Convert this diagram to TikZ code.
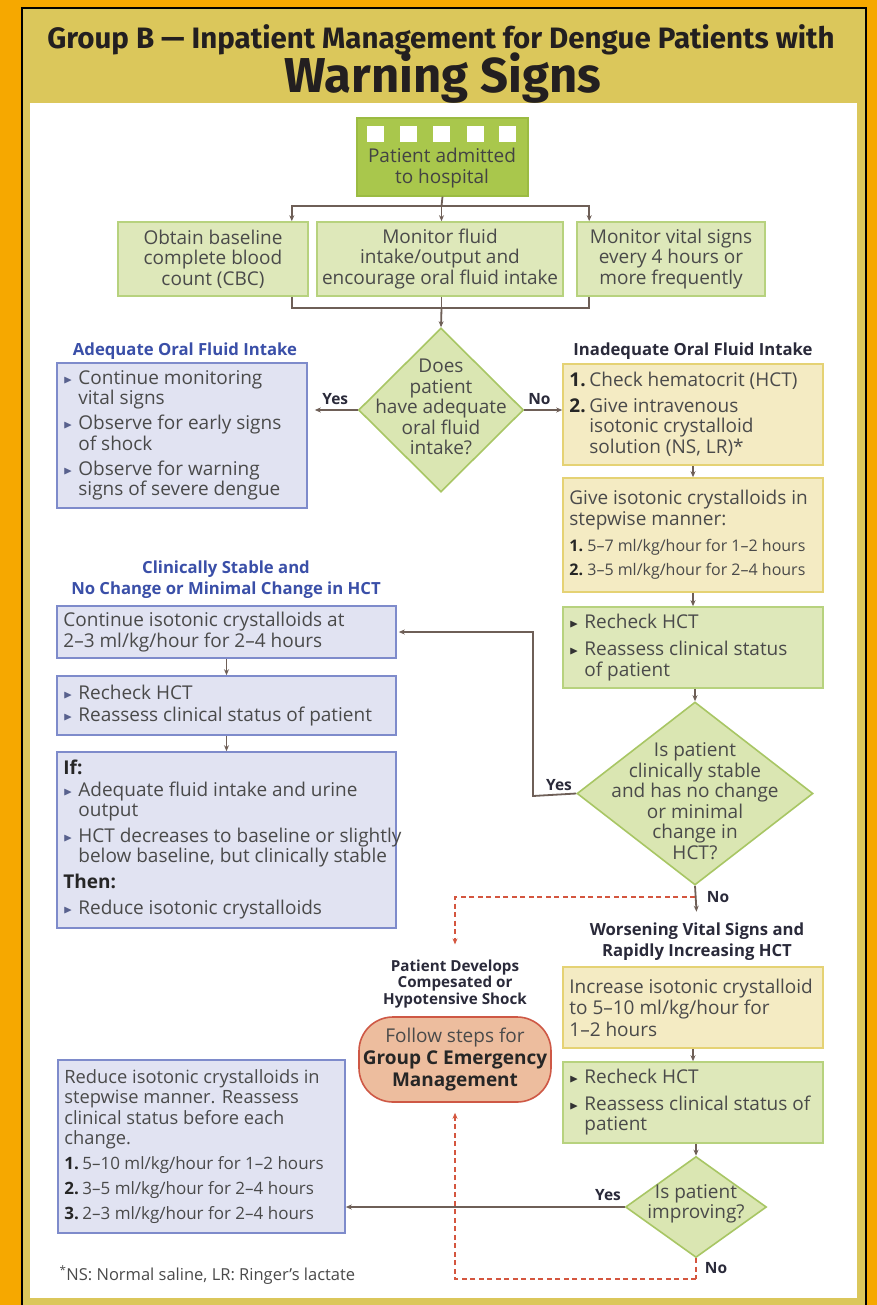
\documentclass[tikz,border=0pt]{standalone}
\usepackage{fontspec}
\usepackage{amssymb}
\setmainfont{Open Sans}
\newfontfamily\titlefont{Fira Sans}
\usetikzlibrary{arrows.meta,shapes.geometric,calc}

\definecolor{orng}{HTML}{F6A800}
\definecolor{khaki}{HTML}{DBC75B}
\definecolor{titlec}{HTML}{231F20}
\definecolor{txt}{HTML}{4A4A4A}
\definecolor{hdblue}{HTML}{3A4FA8}
\definecolor{hddark}{HTML}{2A2A3A}
\definecolor{lavfill}{HTML}{E1E3F2}
\definecolor{lavline}{HTML}{7E8BCB}
\definecolor{yelfill}{HTML}{F4EBC3}
\definecolor{yelline}{HTML}{E5D274}
\definecolor{grnfill}{HTML}{DEE8BA}
\definecolor{grnline}{HTML}{B7D27E}
\definecolor{grnstrong}{HTML}{A9C74C}
\definecolor{grnstrongline}{HTML}{9BBB42}
\definecolor{dmdfill}{HTML}{DAE6B2}
\definecolor{dmdline}{HTML}{A8C664}
\definecolor{arr}{HTML}{6E5F57}
\definecolor{reddash}{HTML}{D4563F}
\definecolor{pillfill}{HTML}{EDBD9E}
\definecolor{pillline}{HTML}{CE5845}

\newcommand\bodyf{\fontsize{19}{20.5}\selectfont}
\newcommand\smallf{\fontsize{16}{20}\selectfont}
\newcommand\redsm{\fontsize{17}{20}\selectfont}
\newcommand\hdf{\bfseries\fontsize{16.7}{21}\selectfont}
\newcommand\hdsf{\bfseries\fontsize{15.2}{16.5}\selectfont}
\newcommand\lblf{\bfseries\fontsize{15.5}{17}\selectfont}
\newcommand\btri[1]{\makebox[15pt][l]{\textcolor{#1}{\raisebox{1pt}{\scalebox{0.62}{$\blacktriangleright$}}}}}
\newcommand\bb{\btri{lavline!70!black}}
\newcommand\kb{\btri{black!80}}
\newcommand\ind{\hspace*{15pt}}
\newcommand\nb[1]{\textbf{\textcolor{black!85}{#1}}}
\newcommand\numb[2][20pt]{\makebox[#1][l]{\nb{#2}}}
% box node + left aligned text node
\newcommand\tbox[7]{%
  \node[#1, minimum width=#5pt, minimum height=#6pt] (#2) at (#3,#4) {};
  \node[btext, anchor=west] (#2t) at ([xshift=7pt]#2.west) {#7};}

\begin{document}
\begin{tikzpicture}[x=1pt,y=-1pt,
  bx/.style={draw, line width=1.6pt, inner sep=0pt},
  lavbox/.style={bx, fill=lavfill, draw=lavline},
  yelbox/.style={bx, fill=yelfill, draw=yelline},
  grnbox/.style={bx, fill=grnfill, draw=grnline},
  btext/.style={align=left, font=\bodyf, text=txt, inner sep=0pt},
  dmd/.style={diamond, draw=dmdline, fill=dmdfill, line width=1.6pt, inner sep=0pt},
  dtext/.style={align=center, font=\bodyf, text=txt, inner sep=0pt},
  ln/.style={draw=arr, line width=1.8pt},
  ar/.style={ln, -{Stealth[length=6pt,width=5pt]}},
  rd/.style={draw=reddash, line width=1.5pt, dash pattern=on 5pt off 3.5pt},
  rdar/.style={rd, -{Stealth[length=6pt,width=5pt]}},
  hdb/.style={font=\hdf, text=hdblue, align=center},
  hdk/.style={font=\hdf, text=hddark, align=center},
  lbl/.style={font=\lblf, text=hddark},
]
\useasboundingbox (0,0) rectangle (877,1305);
% frame
\fill[orng] (0,0) rectangle (877,1305);
\filldraw[fill=khaki, draw=black, line width=1.5pt] (22,8) rectangle (866,1320);
\fill[white] (30,103) rectangle (857,1298);

% title
\node[font=\titlefont\bfseries\fontsize{29.5}{32}\selectfont, text=titlec] (t1) at (441,40) {Group B — Inpatient Management for Dengue Patients with};
\node[font=\titlefont\bfseries\fontsize{49}{52}\selectfont, text=titlec] (t2) at (443,78) {Warning Signs};

% top box
\node[draw=grnstrongline, fill=grnstrong, line width=1.2pt, minimum width=171pt, minimum height=78pt] (adm) at (442.5,157) {};
\foreach \cx in {375.5,408,441.5,475,507.5}{
  \fill[white] (\cx-8.5,126) rectangle (\cx+8.5,142);
}
\node[dtext, text=txt!90!black] (admt) at (442,168) {Patient admitted\\to hospital};

% row boxes
\node[grnbox, minimum width=190pt, minimum height=74pt] (obtain) at (213,259) {};
\node[dtext] (obtaint) at (obtain) {Obtain baseline\\complete blood\\count (CBC)};
\node[grnbox, minimum width=246pt, minimum height=74pt] (monf) at (440,259) {};
\node[dtext] (monft) at (monf) {Monitor fluid\\intake/output and\\encourage oral fluid intake};
\node[grnbox, minimum width=188pt, minimum height=74pt] (monv) at (671,259) {};
\node[dtext] (monvt) at (monv) {Monitor vital signs\\every 4 hours or\\more frequently};

\coordinate (j1) at (441.5,206);
\draw[ln] (adm.south) -- (j1);
\draw[ar] (j1) -| ([xshift=-17pt]obtain.north east);
\draw[ar] (j1) -- (monf.north -| j1);
\draw[ar] (j1) -| ([xshift=13pt]monv.north west);

\coordinate (j2) at (441.5,308);
\draw[ln] ([xshift=-17pt]obtain.south east) |- (j2);
\draw[ln] ([xshift=13pt]monv.south west) |- (j2);
\draw[ln] (monf.south -| j2) -- (j2);

% diamond 1
\node[dmd, minimum width=165pt, minimum height=164pt] (d1) at (441,410) {};
\node[dtext] (d1t) at (441,407) {Does\\patient\\have adequate\\oral fluid\\intake?};
\draw[ar] (j2) -- (d1.north);

% adequate
\node[hdb] (adqh) at (185,351) {Adequate Oral Fluid Intake};
\tbox{lavbox}{adq}{182}{435.5}{250}{145}
 {\bb Continue monitoring\\\ind vital signs\\[4.5pt]\bb Observe for early signs\\\ind of shock\\[4.5pt]\bb Observe for warning\\\ind signs of severe dengue}
\draw[ar, shorten >=7pt] (d1.west) -- (d1.west -| adq.east) node[lbl, pos=0.45, above=1pt] {Yes};

% inadequate
\node[hdk] (inadh) at (693,351) {Inadequate Oral Fluid Intake};
\tbox{yelbox}{inad}{693}{414.5}{260}{101}
 {\numb{1.}Check hematocrit (HCT)\\[5pt]\numb{2.}Give intravenous\\\hspace*{20pt}isotonic crystalloid\\\hspace*{20pt}solution (NS, LR)*}
\draw[ar] (d1.east) -- (d1.east -| inad.west) node[lbl, pos=0.4, above=1pt] {No};

\tbox{yelbox}{step}{693}{535}{260}{114}
 {Give isotonic crystalloids in\\stepwise manner:\\[6pt]\smallf\numb[18pt]{1.}5–7 ml/kg/hour for 1–2 hours\\[3.5pt]\smallf\numb[18pt]{2.}3–5 ml/kg/hour for 2–4 hours}
\draw[ar] (inad.south) -- (step.north);

\tbox{grnbox}{rc1}{693}{647.5}{260}{81}
 {\kb Recheck HCT\\[7pt]\kb Reassess clinical status\\\ind of patient}
\draw[ar] (step.south) -- (rc1.north);

% diamond 2
\node[dmd, minimum width=236pt, minimum height=183pt] (d2) at (695,793.5) {};
\node[dtext] (d2t) at (695,801) {Is patient\\clinically stable\\and has no change\\or minimal\\change in\\HCT?};
\draw[ar] (rc1.south -| d2) -- (d2.north);

% left column
\node[hdb] (csh) at (226,580) {Clinically Stable and\\No Change or Minimal Change in HCT};
\tbox{lavbox}{cont}{226.5}{632}{339}{52}
 {Continue isotonic crystalloids at\\2–3 ml/kg/hour for 2–4 hours}
\tbox{lavbox}{rcl}{226.5}{705.5}{339}{59}
 {\bb Recheck HCT\\[2pt]\bb Reassess clinical status of patient}
\tbox{lavbox}{ifb}{226.5}{840}{339}{176}
 {\nb{If:}\\[1pt]\bb Adequate fluid intake and urine\\\ind output\\[5pt]\bb HCT decreases to baseline or slightly\\\ind below baseline, but clinically stable\\[5pt]\nb{Then:}\\[6pt]\bb Reduce isotonic crystalloids}
\draw[ar] (cont.south) -- (rcl.north);
\draw[ar] (rcl.south) -- (ifb.north);

\coordinate (yb) at (533,796);
\draw[ar, shorten >=2pt] (d2.west) -- (yb) |- (cont.east);
\node[lbl] (y2) at (559,785) {Yes};

% no from d2
\node[hdk] (worh) at (697,942) {Worsening Vital Signs and\\Rapidly Increasing HCT};
\draw[ar, shorten >=8pt] (d2.south) -- (worh.north);
\node[lbl] (n2) at (718,897) {No};

\tbox{yelbox}{inc}{693}{1007.5}{260}{81}
 {Increase isotonic crystalloid\\[1pt]to 5–10 ml/kg/hour for\\[1pt]1–2 hours}
\tbox{grnbox}{rc2}{693}{1102.5}{260}{81}
 {\kb Recheck HCT\\[6pt]\kb Reassess clinical status of\\\ind patient}
\draw[ar] (inc.south) -- (rc2.north);

% diamond 3
\node[dmd, minimum width=141pt, minimum height=101pt] (d3) at (696,1207) {};
\node[dtext] (d3t) at (696,1204) {Is patient\\improving?};
\draw[ar] (rc2.south -| d3) -- (d3.north);

% shock pill
\node[hdk, font=\hdsf] (shh) at (455,984) {Patient Develops\\Compesated or\\Hypotensive Shock};
\node[draw=pillline, fill=pillfill, line width=1.6pt, rounded corners=34pt, minimum width=192pt, minimum height=85pt] (pill) at (455,1059.5) {};
\node[dtext, font=\fontsize{19}{22}\selectfont] (pillt) at (pill) {Follow steps for\\\textbf{\textcolor{black!85}{Group C Emergency}}\\\textbf{\textcolor{black!85}{Management}}};

% reduce box
\node[lavbox, minimum width=287pt, minimum height=173pt] (red) at (201.5,1146.5) {};
\node[btext, anchor=west, font=\fontsize{18.3}{20.5}\selectfont] (redt) at ([xshift=7pt]red.west)
 {Reduce isotonic crystalloids in\\stepwise manner. Reassess\\clinical status before each\\change.\\[4.5pt]\redsm\numb[18pt]{1.}5–10 ml/kg/hour for 1–2 hours\\[4.5pt]\redsm\numb[18pt]{2.}3–5 ml/kg/hour for 2–4 hours\\[4.5pt]\redsm\numb[18pt]{3.}2–3 ml/kg/hour for 2–4 hours};
\draw[ar] (d3.west) -- (d3.west -| red.east);
\node[lbl] (y3) at (608,1195) {Yes};
\node[lbl] (n3) at (716,1268) {No};

% red dashed paths
\coordinate (r1) at (695,897);
\draw[rdar] (r1) -| ([yshift=12pt]shh.north);
\coordinate (r2) at (696,1279);
\draw[rd] (d3.south) -- (r2);
\draw[rdar, shorten >=10pt] (r2) -| (pill.south);

% footnote
\node[anchor=west, font=\fontsize{16.5}{18}\selectfont, text=txt] (fn) at (56,1275) {\textsuperscript{*}NS: Normal saline, LR: Ringer’s lactate};
\end{tikzpicture}
\end{document}
